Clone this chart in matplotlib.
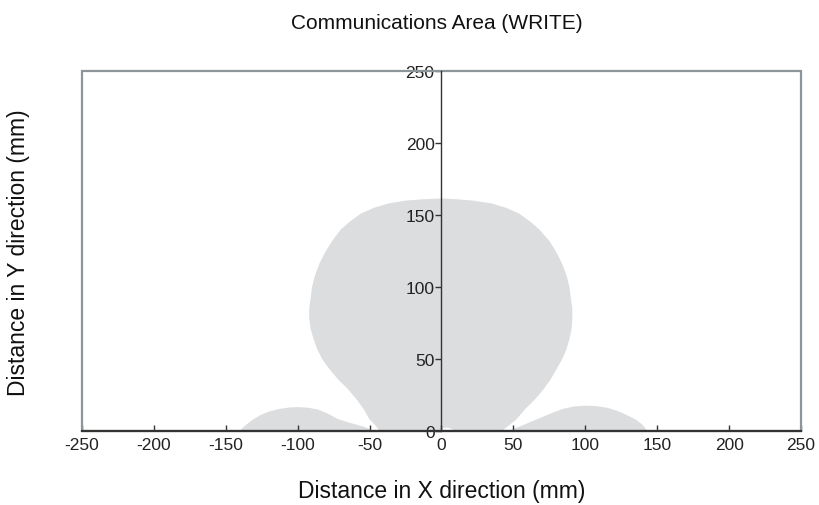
import numpy as np
import matplotlib
matplotlib.use("Agg")
import matplotlib.pyplot as plt
from matplotlib.patches import Polygon, Rectangle

plt.rcParams['font.family'] = ['Liberation Sans', 'DejaVu Sans']

# contorno del lobulo central (mm)
alturas = [0, 4, 8, 15, 22, 29, 36, 43, 50, 57, 64, 71, 78, 85, 92, 100, 108, 116,
           124, 132, 140, 146, 151, 155, 158, 160, 161]
borde_izq = [-43, -46, -50, -54, -59, -65, -72, -78, -83, -86.5, -89, -91, -92, -92,
             -91, -90, -88, -85, -81, -76, -70, -63, -56, -47, -37, -25, -12]
borde_der = [42, 47, 52, 58, 65, 71, 76, 80, 84, 87, 89, 90.5, 91, 91, 90, 89, 87,
             84, 80, 75, 68, 61, 54, 45, 35, 22, 10]
cima = 161.5
# pequena muesca blanca en el origen
muesca_x = [9, 7, 4, 1, 0]
muesca_y = [0, 1.5, 2.5, 2, 0]

# lobulo izquierdo
izq_x = [-140, -138, -135, -131, -126, -120, -113, -106, -100, -93, -86, -79, -72,
         -63, -54, -49, -47]
izq_y = [0, 2.5, 5, 8, 11, 13.5, 15.3, 16.3, 16.6, 16.2, 15, 12, 8.3, 5.5, 3, 1, 0]

# lobulo derecho
der_x = [46, 50, 54, 60, 66, 72, 78, 85, 92, 100, 108, 116, 122, 127, 131, 135, 139,
         141, 143]
der_y = [0, 1.5, 3, 5.5, 8, 10.5, 13, 15.5, 17, 17.6, 17.3, 16, 14, 12, 10, 8, 5, 3, 0]

xticks = [-250, -200, -150, -100, -50, 0, 50, 100, 150, 200, 250]
yticks = [0, 50, 100, 150, 200, 250]

gris = "#dcdddf"
marco = "#8d949a"
oscuro = "#333333"

centro_x = borde_izq + [0] + borde_der[::-1] + muesca_x
centro_y = alturas + [cima] + alturas[::-1] + muesca_y

fig = plt.figure(figsize=(8.19, 5.06), dpi=100)
ax = fig.add_axes([0.1001, 0.1462, 0.8779, 0.7115])

for xs, ys in [(centro_x, centro_y), (izq_x, izq_y), (der_x, der_y)]:
    ax.add_patch(Polygon(np.column_stack([xs, ys]), closed=True,
                         facecolor=gris, edgecolor="none", zorder=1))

ax.set_xlim(-250, 250)
ax.set_ylim(0, 250)

# marco exterior
ax.add_patch(Rectangle((0, 0), 1, 1, transform=ax.transAxes, fill=False,
                       edgecolor=marco, lw=1.6, clip_on=False, zorder=2))

ax.spines['top'].set_visible(False)
ax.spines['right'].set_visible(False)
ax.spines['left'].set_position(('data', 0))
ax.spines['left'].set_color(oscuro)
ax.spines['bottom'].set_color(oscuro)
ax.spines['left'].set_linewidth(1.0)
ax.spines['bottom'].set_linewidth(1.6)
ax.spines['left'].set_zorder(3)
ax.spines['bottom'].set_zorder(3)

ax.set_xticks(xticks)
ax.set_xticklabels([str(t) for t in xticks])
ax.set_yticks(yticks)
ax.set_yticklabels([str(t) for t in yticks])
ax.tick_params(axis='x', direction='in', length=4, width=1, color=oscuro,
               labelsize=12.5, pad=4, labelcolor="#222222")
ax.tick_params(axis='y', direction='out', length=4, width=1, color=oscuro,
               labelsize=12.5, pad=1, labelcolor="#222222")

fig.text(0.533, 0.953, "Communications Area (WRITE)", ha="center", va="center",
         fontsize=15, color="#111111")
fig.text(0.539, 0.028, "Distance in X direction (mm)", ha="center", va="center",
         fontsize=16.5, color="#111111")
fig.text(0.023, 0.5, "Distance in Y direction (mm)", ha="center", va="center",
         rotation=90, fontsize=16.5, color="#111111")

fig.savefig("out.png", dpi=100)
